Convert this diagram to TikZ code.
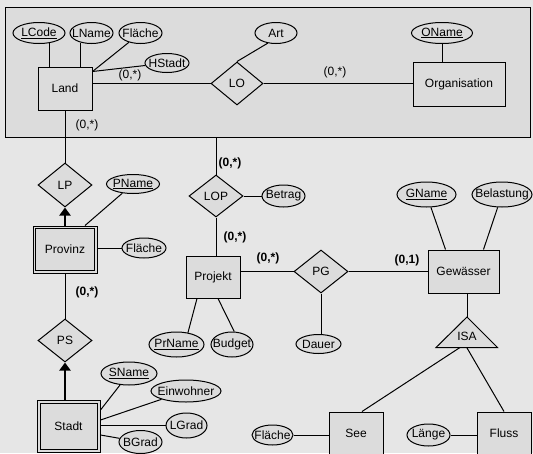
\documentclass[tikz,border=0pt]{standalone}
\usepackage{fontspec}
\setmainfont{Liberation Sans}
\usetikzlibrary{shapes.geometric,calc,arrows.meta}
\definecolor{bgc}{HTML}{E6E6E6}
\definecolor{fillc}{HTML}{DCDCDC}
\newcommand{\ctr}[1]{\makebox[0pt]{#1}}
\begin{document}
\begin{tikzpicture}[x=1pt,y=-1pt,
  every node/.style={font=\fontsize{12}{14}\selectfont},
  ln/.style={line width=1pt},
  ent/.style={rectangle, draw, fill=fillc, line width=1pt, inner sep=0pt},
  attr/.style={ellipse, draw, fill=fillc, line width=1pt, inner sep=0pt},
  rel/.style={diamond, draw, fill=fillc, line width=1pt, inner sep=0pt},
  card/.style={inner sep=0pt},
  bcard/.style={inner sep=0pt, font=\fontsize{12}{14}\selectfont\bfseries},
  heavy/.style={line width=2.6pt, -{Triangle[length=8pt,width=11pt]}},
]
\fill[bgc] (0,0) rectangle (533,453);
\useasboundingbox (0,0) rectangle (533,453);
\node[draw, fill=fillc, line width=1.3pt, minimum width=525, minimum height=130, inner sep=0pt, anchor=north west] (cont) at (5,7) {};

% top region
\node[attr, minimum width=52, minimum height=21] (lcode) at (39,33) {\ctr{\underline{LCode}}};
\node[attr, minimum width=43, minimum height=21] (lname) at (91.5,33) {\ctr{LName}};
\node[attr, minimum width=43, minimum height=21] (flL) at (140.5,33) {\ctr{Fläche}};
\node[attr, minimum width=44, minimum height=19] (hstadt) at (167,63) {\ctr{HStadt}};
\node[ent, minimum width=54, minimum height=43] (land) at (65,88.5) {Land};
\node[rel, minimum width=52, minimum height=43] (lo) at (237,83.5) {LO};
\node[attr, minimum width=42, minimum height=21] (art) at (276,33) {\ctr{Art}};
\node[attr, minimum width=61, minimum height=21] (oname) at (442,33) {\ctr{\underline{OName}}};
\node[ent, minimum width=92, minimum height=44] (org) at (459,84) {Organisation};
\node[card] (c1) at (130,75) {(0,*)};
\node[card] (c2) at (335,72) {(0,*)};
\node[card] (c3) at (87,125) {(0,*)};

% left column
\node[rel, minimum width=54, minimum height=44] (lp) at (65,185) {LP};
\node[attr, minimum width=53, minimum height=19] (pname) at (133,184) {\ctr{\underline{PName}}};
\node[ent, minimum width=64, minimum height=47] (prov) at (65,249.5) {Provinz};
\draw[ln] ($(prov.north west)+(3,3)$) rectangle ($(prov.south east)+(-3,-3)$);
\node[attr, minimum width=44, minimum height=20] (flP) at (144,248) {\ctr{Fläche}};
\node[bcard] (c4) at (87,292) {(0,*)};
\node[rel, minimum width=54, minimum height=43] (ps) at (65,340.5) {PS};
\node[ent, minimum width=63, minimum height=52] (stadt) at (68.5,426) {Stadt};
\draw[ln] ($(stadt.north west)+(3.5,3.5)$) rectangle ($(stadt.south east)+(-3.5,-3.5)$);
\node[attr, minimum width=56, minimum height=23] (sname) at (129,373.5) {\ctr{\underline{SName}}};
\node[attr, minimum width=70, minimum height=22] (einw) at (186,391) {\ctr{Einwohner}};
\node[attr, minimum width=41, minimum height=25] (lgrad) at (186.5,425.5) {\ctr{LGrad}};
\node[attr, minimum width=43, minimum height=23] (bgrad) at (140.5,442) {\ctr{BGrad}};

% middle
\node[rel, minimum width=54, minimum height=42] (lop) at (216,196) {LOP};
\node[attr, minimum width=43, minimum height=22] (betrag) at (283.5,196) {\ctr{Betrag}};
\node[bcard] (c5) at (230,163) {(0,*)};
\node[bcard] (c6) at (235,237) {(0,*)};
\node[ent, minimum width=54, minimum height=42] (proj) at (213,277) {Projekt};
\node[attr, minimum width=55, minimum height=25] (prname) at (176.5,344.5) {\ctr{\underline{PrName}}};
\node[attr, minimum width=42, minimum height=25] (budget) at (232,344.5) {\ctr{Budget}};
\node[rel, minimum width=54, minimum height=43] (pg) at (321,271.5) {PG};
\node[bcard] (c7) at (268,258) {(0,*)};
\node[bcard] (c8) at (407,260) {(0,1)};
\node[attr, minimum width=45, minimum height=19] (dauer) at (318.5,344) {\ctr{Dauer}};

% right
\node[ent, minimum width=71, minimum height=43] (gew) at (463.5,271.5) {Gewässer};
\node[attr, minimum width=59, minimum height=25] (gname) at (426.5,194.5) {\ctr{\underline{GName}}};
\node[attr, minimum width=60, minimum height=25] (belast) at (502,194.5) {\ctr{Belastung}};
\coordinate (isaTop) at (467,317);
\coordinate (isaL) at (436,347.5);
\coordinate (isaR) at (497.5,347.5);
\filldraw[fill=fillc, ln, line join=miter] (isaTop) -- (isaL) -- (isaR) -- cycle;
\node (isa) at (467,336) {ISA};
\node[ent, minimum width=54, minimum height=42] (see) at (356,433) {See};
\node[ent, minimum width=54, minimum height=42] (fluss) at (504,433) {Fluss};
\node[attr, minimum width=41, minimum height=20] (flS) at (272.5,435) {\ctr{Fläche}};
\node[attr, minimum width=43, minimum height=22] (laenge) at (428.5,435) {\ctr{Länge}};

% connectors
\draw[ln] (lcode.-44) -- (lcode.-44 |- land.north);
\draw[ln] (lname.-139) -- (lname.-139 |- land.north);
\draw[ln] (flL) -- ($(land.north east)+(0,5)$);
\draw[ln] (hstadt) -- ($(land.north east)+(0,5)$);
\draw[ln] (lo.west) -- (lo.west -| land.east);
\draw[ln] (lo.north) -- (art.-129);
\draw[ln] (lo.east) -- (lo.east -| org.west);
\draw[ln] (oname) -- (oname |- org.north);
\draw[ln] (land) -- (lp);
\draw[heavy] (prov) -- (lp);
\draw[ln] (pname) -- ($(prov.north)+(20,0)$);
\draw[ln] (flP) -- (flP -| prov.east);
\draw[ln] (prov) -- (ps);
\draw[heavy] (ps.south |- stadt.north) -- (ps.south);
\draw[ln] (sname) -- ($(stadt.east)+(0,-16)$);
\draw[ln] (einw) -- ($(stadt.east)+(0,-6)$);
\draw[ln, line width=1.6pt] (lgrad) -- (lgrad -| stadt.east);
\draw[ln] (bgrad) -- ($(stadt.east)+(0,9)$);
\draw[ln] (lop.north) -- (lop.north |- cont.south);
\draw[ln] (lop.east) -- (betrag);
\draw[ln] (lop.south) -- (lop.south |- proj.north);
\draw[ln] (pg.west) -- (pg.west -| proj.east);
\draw[ln] (pg.east) -- (pg.east -| gew.west);
\draw[ln] (pg.south) -- (pg.south |- dauer.north);
\draw[ln] (prname.46) -- ($(proj.south)+(-16,0)$);
\draw[ln] (budget.80) -- ($(proj.south)+(5,0)$);
\draw[ln] (gname) -- ($(gew.north)+(-18,0)$);
\draw[ln] (belast) -- ($(gew.north)+(20,0)$);
\draw[ln] (gew.south -| isaTop) -- (isaTop);
\draw[ln] ($(isaL)!0.39!(isaR)$) -- ($(see.north)+(6,0)$);
\draw[ln] ($(isaL)!0.5!(isaR)$) -- (fluss.north);
\draw[ln] (flS) -- (flS -| see.west);
\draw[ln] (laenge) -- (laenge -| fluss.west);
\end{tikzpicture}
\end{document}
